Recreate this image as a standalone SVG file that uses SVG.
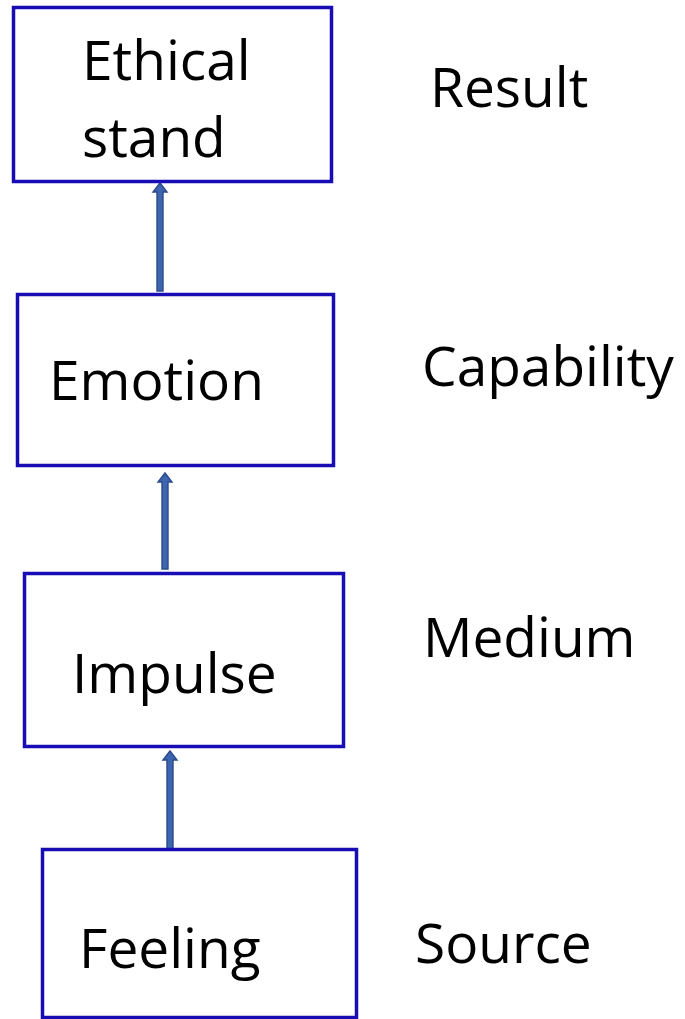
<svg xmlns="http://www.w3.org/2000/svg" width="685" height="1019" viewBox="0 0 685 1019">
  <style>
    .box { fill: #ffffff; stroke: #180cb5; stroke-width: 3.5; }
    .lbl { font-family: "Open Sans", "Liberation Sans", sans-serif; font-size: 55px; fill: #000000; }
    .arrow { fill: #3d65b0; stroke: #2a4a8a; stroke-width: 1.4; }
  </style>
  <rect width="685" height="1019" fill="#ffffff"/>

  <g id="connectors">
    <!-- Feeling -> Impulse -->
    <path class="arrow" d="M167,850 L167,760 L163,760 L170,751 L177,760 L173,760 L173,850 Z"/>
    <!-- Impulse -> Emotion -->
    <path class="arrow" d="M162,569 L162,482 L158,482 L165,473 L172,482 L168,482 L168,569 Z"/>
    <!-- Emotion -> Ethical stand -->
    <path class="arrow" d="M157,291 L157,192 L153,192 L160,183 L167,192 L163,192 L163,291 Z"/>
  </g>

  <g id="node-ethical-stand">
    <rect class="box" x="13.5" y="7.5" width="318" height="174"/>
    <text class="lbl" x="82" y="80">Ethical</text>
    <text class="lbl" x="82" y="157">stand</text>
  </g>
  <g id="node-emotion">
    <rect class="box" x="17.5" y="294.5" width="316" height="171"/>
    <text class="lbl" x="49" y="400">Emotion</text>
  </g>
  <g id="node-impulse">
    <rect class="box" x="24.5" y="573.5" width="319" height="173"/>
    <text class="lbl" x="72" y="693">Impulse</text>
  </g>
  <g id="node-feeling">
    <rect class="box" x="42.5" y="849.5" width="314" height="168"/>
    <text class="lbl" x="79" y="968">Feeling</text>
  </g>

  <g id="level-labels">
    <text class="lbl" x="430" y="107">Result</text>
    <text class="lbl" x="422" y="386">Capability</text>
    <text class="lbl" x="423" y="657">Medium</text>
    <text class="lbl" x="415" y="963">Source</text>
  </g>
</svg>
